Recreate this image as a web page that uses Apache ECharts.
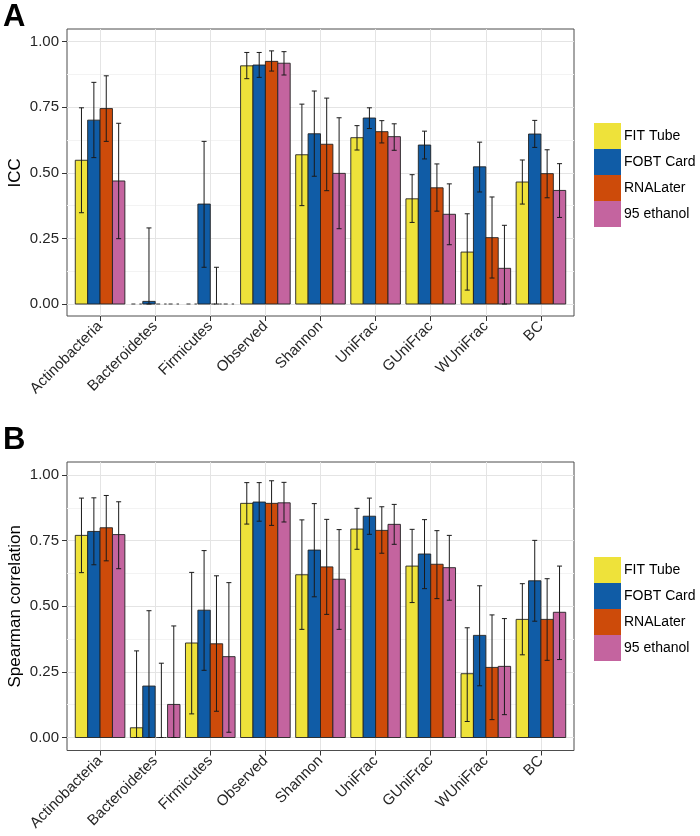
<!DOCTYPE html>
<html>
<head>
<meta charset="utf-8">
<script src="https://cdn.jsdelivr.net/npm/echarts@6/dist/echarts.min.js"></script>
<style>
  html, body { margin: 0; padding: 0; background: #fff; }
  #chart { width: 700px; height: 836px; }
</style>
</head>
<body>
<div id="chart"></div>
<script>
// ---------- data ----------
const categories = ['Actinobacteria', 'Bacteroidetes', 'Firmicutes', 'Observed', 'Shannon', 'UniFrac', 'GUniFrac', 'WUniFrac', 'BC'];
const methods = ['FIT Tube', 'FOBT Card', 'RNALater', '95 ethanol'];
const yTicks = [0, 0.25, 0.5, 0.75, 1];

// Panel A: ICC
const iccFIT      = [0.548, 0, 0, 0.908, 0.569, 0.634, 0.401, 0.198, 0.465];
const iccFITLo    = [0.348, 0, 0, 0.859, 0.375, 0.587, 0.311, 0.053, 0.381];
const iccFITHi    = [0.748, 0, 0, 0.959, 0.762, 0.680, 0.493, 0.344, 0.549];
const iccFOBT     = [0.701, 0.010, 0.381, 0.911, 0.649, 0.709, 0.606, 0.523, 0.648];
const iccFOBTLo   = [0.558, 0, 0.140, 0.864, 0.487, 0.669, 0.553, 0.427, 0.597];
const iccFOBTHi   = [0.845, 0.290, 0.620, 0.959, 0.812, 0.748, 0.659, 0.617, 0.700];
const iccRNA      = [0.745, 0, 0, 0.925, 0.609, 0.657, 0.443, 0.253, 0.497];
const iccRNALo    = [0.620, 0, 0, 0.888, 0.432, 0.614, 0.354, 0.099, 0.405];
const iccRNAHi    = [0.870, 0, 0.140, 0.965, 0.785, 0.699, 0.534, 0.408, 0.588];
const iccEth      = [0.469, 0, 0, 0.918, 0.498, 0.638, 0.342, 0.136, 0.433];
const iccEthLo    = [0.249, 0, 0, 0.873, 0.287, 0.586, 0.226, 0, 0.330];
const iccEthHi    = [0.689, 0, 0, 0.962, 0.710, 0.687, 0.458, 0.300, 0.535];

// Panel B: Spearman correlation
const spFIT       = [0.770, 0.037, 0.360, 0.892, 0.620, 0.794, 0.653, 0.243, 0.450];
const spFITLo     = [0.628, 0, 0.090, 0.813, 0.412, 0.717, 0.514, 0.061, 0.315];
const spFITHi     = [0.912, 0.330, 0.629, 0.971, 0.829, 0.873, 0.793, 0.418, 0.586];
const spFOBT      = [0.785, 0.196, 0.485, 0.897, 0.714, 0.843, 0.699, 0.389, 0.597];
const spFOBTLo    = [0.658, 0, 0.256, 0.824, 0.536, 0.774, 0.567, 0.197, 0.443];
const spFOBTHi    = [0.913, 0.483, 0.712, 0.971, 0.891, 0.912, 0.830, 0.578, 0.751];
const spRNA       = [0.799, 0, 0.357, 0.892, 0.650, 0.789, 0.660, 0.267, 0.450];
const spRNALo     = [0.673, 0, 0.100, 0.808, 0.469, 0.702, 0.529, 0.068, 0.294];
const spRNAHi     = [0.922, 0.283, 0.616, 0.978, 0.831, 0.879, 0.788, 0.467, 0.605];
const spEth       = [0.773, 0.126, 0.308, 0.894, 0.603, 0.812, 0.647, 0.271, 0.477];
const spEthLo     = [0.643, 0, 0.020, 0.821, 0.412, 0.736, 0.523, 0.087, 0.297];
const spEthHi     = [0.898, 0.425, 0.590, 0.972, 0.792, 0.888, 0.770, 0.453, 0.653];

// ---------- styling ----------
const colors = ['#EEE23A', '#105CA6', '#CD4B0A', '#C4649F'];
const FONT = "'Liberation Sans', Arial, Helvetica, sans-serif";
const BAR_W = 0.225;

const panels = [
  { vals: [iccFIT, iccFOBT, iccRNA, iccEth], lo: [iccFITLo, iccFOBTLo, iccRNALo, iccEthLo], hi: [iccFITHi, iccFOBTHi, iccRNAHi, iccEthHi],
    name: 'ICC', frameTop: 29, frameH: 287, dataTop: 41.7, dataH: 262.3, legendTop: 123 },
  { vals: [spFIT, spFOBT, spRNA, spEth], lo: [spFITLo, spFOBTLo, spRNALo, spEthLo], hi: [spFITHi, spFOBTHi, spRNAHi, spEthHi],
    name: 'Spearman correlation', frameTop: 462, frameH: 288.5, dataTop: 475, dataH: 262.5, legendTop: 557 }
];

const LEFT = 67, WIDTH = 507;
const unit = WIDTH / 9.2;
const hiddenAxis = (gi, extra) => Object.assign({
  gridIndex: gi, type: 'value', show: false,
  axisLine: { show: false, onZero: false }, axisTick: { show: false }, axisLabel: { show: false },
  splitLine: { show: false }
}, extra || {});

const grid = [], xAxis = [], yAxis = [], series = [], legend = [];

panels.forEach((p, pi) => {
  const g0 = pi * 3;
  // frame grid (panel border)
  grid.push({ left: LEFT, top: p.frameTop, width: WIDTH, height: p.frameH, show: true, outerBoundsMode: 'none',
              borderColor: '#4d4d4d', borderWidth: 1, backgroundColor: 'transparent' });
  // data grid
  grid.push({ left: LEFT, top: p.dataTop, width: WIDTH, height: p.dataH, outerBoundsMode: 'none' });
  // category grid (ticks, labels, vertical grid lines)
  grid.push({ left: LEFT + 0.6 * unit, top: p.frameTop, width: 8 * unit, height: p.frameH, outerBoundsMode: 'none' });

  xAxis.push(hiddenAxis(g0, { min: 0, max: 1 }));
  yAxis.push(hiddenAxis(g0, { min: 0, max: 1 }));

  xAxis.push(hiddenAxis(g0 + 1, { min: -0.6, max: 8.6 }));
  yAxis.push({
    gridIndex: g0 + 1, type: 'value', min: yTicks[0], max: yTicks[yTicks.length - 1], interval: 0.25,
    name: p.name, nameLocation: 'middle', nameGap: 43, nameMoveOverlap: false,
    nameTextStyle: { fontSize: 17, color: '#000', fontFamily: FONT },
    axisLine: { show: false, onZero: false },
    axisTick: { show: true, length: 5, lineStyle: { color: '#333' } },
    axisLabel: { fontSize: 15, color: '#262626', fontFamily: FONT, margin: 8, formatter: v => v.toFixed(2) },
    splitLine: { show: true, lineStyle: { color: '#e4e4e4', width: 1 } },
    minorTick: { show: false, splitNumber: 2 },
    minorSplitLine: { show: true, lineStyle: { color: '#f3f3f3', width: 1 } }
  });

  xAxis.push({
    gridIndex: g0 + 2, type: 'category', boundaryGap: false, data: categories,
    axisLine: { show: false, onZero: false },
    axisTick: { show: true, length: 5, lineStyle: { color: '#333' } },
    axisLabel: { rotate: 45, fontSize: 15, color: '#262626', fontFamily: FONT, margin: 8, interval: 0 },
    splitLine: { show: true, lineStyle: { color: '#e4e4e4', width: 1 } }
  });
  yAxis.push(hiddenAxis(g0 + 2, { min: 0, max: 1 }));

  methods.forEach((m, s) => {
    const data = categories.map((c, i) => [i, p.vals[s][i], p.lo[s][i], p.hi[s][i]]);
    series.push({
      type: 'custom', name: m, xAxisIndex: g0 + 1, yAxisIndex: g0 + 1,
      itemStyle: { color: colors[s] },
      encode: { x: 0, y: [1, 2, 3] },
      data: data,
      renderItem: (params, api) => {
        const i = api.value(0), v = api.value(1), lo = api.value(2), hi = api.value(3);
        const xc = i + (s - 1.5) * BAR_W;
        const tl = api.coord([xc - BAR_W / 2, v]);
        const br = api.coord([xc + BAR_W / 2, 0]);
        const children = [];
        if (v > 0) {
          children.push({ type: 'rect',
            shape: { x: tl[0], y: tl[1], width: br[0] - tl[0], height: br[1] - tl[1] },
            style: { fill: colors[s], stroke: '#222', lineWidth: 0.9 } });
        } else {
          children.push({ type: 'line',
            shape: { x1: tl[0] + 1, y1: br[1], x2: br[0] - 1, y2: br[1] },
            style: { stroke: '#333', lineWidth: 1, lineDash: [4, 4] } });
        }
        if (hi > lo) {
          const pLo = api.coord([xc, lo]);
          const pHi = api.coord([xc, hi]);
          const cw = 2.5;
          const st = { stroke: '#1a1a1a', lineWidth: 1 };
          children.push({ type: 'line', shape: { x1: pLo[0], y1: pLo[1], x2: pHi[0], y2: pHi[1] }, style: st });
          children.push({ type: 'line', shape: { x1: pHi[0] - cw, y1: pHi[1], x2: pHi[0] + cw, y2: pHi[1] }, style: st });
          children.push({ type: 'line', shape: { x1: pLo[0] - cw, y1: pLo[1], x2: pLo[0] + cw, y2: pLo[1] }, style: st });
        }
        return { type: 'group', children: children };
      }
    });
  });

  legend.push({
    data: methods, orient: 'vertical', left: 594, top: p.legendTop,
    itemWidth: 27, itemHeight: 26, itemGap: 0, padding: 0, icon: 'rect',
    selectedMode: false,
    itemStyle: { borderWidth: 0 },
    textStyle: { fontSize: 14, color: '#000', fontFamily: FONT, padding: [0, 0, 0, -2] }
  });
});

const chart = echarts.init(document.getElementById('chart'), null, { renderer: 'canvas' });
chart.setOption({
  animation: false,
  backgroundColor: '#fff',
  title: [
    { text: 'A', left: 3, top: 2, padding: 0, textStyle: { fontSize: 31, fontWeight: 'bold', color: '#000', fontFamily: FONT } },
    { text: 'B', left: 3, top: 425, padding: 0, textStyle: { fontSize: 31, fontWeight: 'bold', color: '#000', fontFamily: FONT } }
  ],
  grid: grid,
  xAxis: xAxis,
  yAxis: yAxis,
  legend: legend,
  series: series
});
</script>
</body>
</html>
